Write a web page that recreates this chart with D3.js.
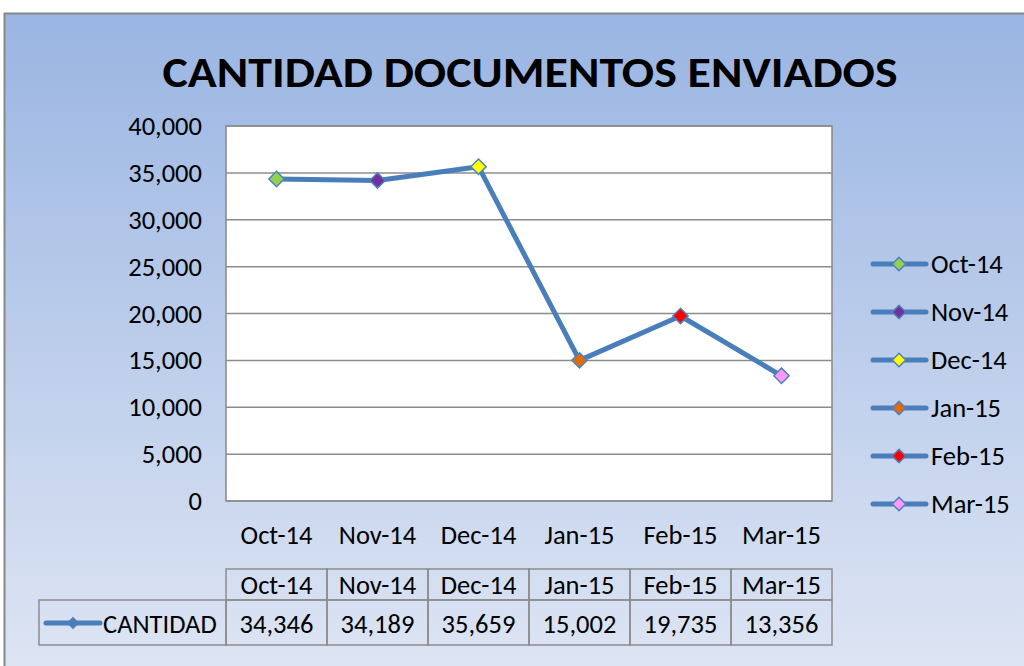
<!DOCTYPE html>
<html>
<head>
<meta charset="utf-8">
<script src="https://cdn.jsdelivr.net/npm/d3@7"></script>
<style>
  body { margin: 0; background: #fff; }
  svg { display: block; font-family: Carlito, Calibri, "Open Sans", sans-serif; }
</style>
</head>
<body>
<svg id="chart" width="1024" height="666"></svg>
<script>
// datos
var months = ["Oct-14", "Nov-14", "Dec-14", "Jan-15", "Feb-15", "Mar-15"];
var cantidad = [34346, 34189, 35659, 15002, 19735, 13356];
var markerColors = ["#92d050", "#7030a0", "#ffff00", "#e36c09", "#ff0000", "#ff99ff"];
var yTicks = [0, 5000, 10000, 15000, 20000, 25000, 30000, 35000, 40000];
var seriesName = "CANTIDAD";
var title = "CANTIDAD DOCUMENTOS ENVIADOS";

var svg = d3.select("#chart");
var lineColor = "#4a7ebb";
var fs = 26.5;
var plot = {left: 226, right: 832, top: 126, bottom: 501};

// fondo degradado
var defs = svg.append("defs");
var grad = defs.append("linearGradient").attr("id", "bg")
  .attr("x1", 0).attr("y1", 0).attr("x2", 0).attr("y2", 1);
grad.append("stop").attr("offset", "0%").attr("stop-color", "#9ab5e2");
grad.append("stop").attr("offset", "100%").attr("stop-color", "#dfe6f4");

svg.append("rect")
  .attr("x", 4.5).attr("y", 13.5).attr("width", 1030).attr("height", 670)
  .attr("fill", "url(#bg)").attr("stroke", "#878787").attr("stroke-width", 2);

svg.append("text")
  .attr("x", 530).attr("y", 87)
  .attr("text-anchor", "middle")
  .attr("font-size", 42).attr("font-weight", "bold")
  .attr("textLength", 735).attr("lengthAdjust", "spacingAndGlyphs")
  .text(title);

var x = d3.scaleBand().domain(months).range([plot.left, plot.right]);
var y = d3.scaleLinear().domain([0, 40000]).range([plot.bottom, plot.top]);

svg.append("rect")
  .attr("x", plot.left).attr("y", plot.top)
  .attr("width", plot.right - plot.left).attr("height", plot.bottom - plot.top)
  .attr("fill", "#fff").attr("stroke", "#888").attr("stroke-width", 1.5);

svg.append("g").selectAll("line")
  .data(yTicks)
  .enter().append("line")
  .attr("x1", plot.left).attr("x2", plot.right)
  .attr("y1", d => y(d)).attr("y2", d => y(d))
  .attr("stroke", "#8c8c8c").attr("stroke-width", 1.5);

var fmt = d3.format(",");
svg.append("g").selectAll("text")
  .data(yTicks)
  .enter().append("text")
  .attr("x", 202).attr("y", d => y(d) + 9)
  .attr("text-anchor", "end").attr("font-size", fs)
  .text(d => fmt(d));

svg.append("g").selectAll("text")
  .data(months)
  .enter().append("text")
  .attr("x", d => x(d) + x.bandwidth() / 2).attr("y", 544)
  .attr("text-anchor", "middle").attr("font-size", fs)
  .text(d => d);

var line = d3.line()
  .x((d, i) => x(months[i]) + x.bandwidth() / 2)
  .y(d => y(d));

svg.append("path")
  .datum(cantidad)
  .attr("d", line)
  .attr("fill", "none").attr("stroke", lineColor)
  .attr("stroke-width", 5).attr("stroke-linejoin", "round");

var diamond = d3.symbol().type(d3.symbolDiamond2).size(150);

svg.append("g").selectAll("path")
  .data(cantidad)
  .enter().append("path")
  .attr("d", diamond)
  .attr("transform", (d, i) => "translate(" + (x(months[i]) + x.bandwidth() / 2) + "," + y(d) + ")")
  .attr("fill", (d, i) => markerColors[i])
  .attr("stroke", "#4f81bd").attr("stroke-width", 1.5);

// leyenda
var legend = svg.append("g").selectAll("g")
  .data(months)
  .enter().append("g")
  .attr("transform", (d, i) => "translate(0," + (264 + i * 48) + ")");
legend.append("line")
  .attr("x1", 873).attr("x2", 926).attr("y1", 0).attr("y2", 0)
  .attr("stroke", lineColor).attr("stroke-width", 5).attr("stroke-linecap", "round");
legend.append("path")
  .attr("d", d3.symbol().type(d3.symbolDiamond2).size(115))
  .attr("transform", "translate(899,0)")
  .attr("fill", (d, i) => markerColors[i])
  .attr("stroke", "#4f81bd").attr("stroke-width", 1.5);
legend.append("text")
  .attr("x", 931).attr("y", 9).attr("font-size", fs)
  .text(d => d);

// tabla de datos
var table = svg.append("g");
var hTop = 569, hBot = 600, dBot = 645;
table.selectAll("rect.h")
  .data(months)
  .enter().append("rect")
  .attr("x", d => x(d)).attr("y", hTop)
  .attr("width", x.bandwidth()).attr("height", hBot - hTop)
  .attr("fill", "none").attr("stroke", "#8c8c8c").attr("stroke-width", 1.5);
table.selectAll("text.h")
  .data(months)
  .enter().append("text")
  .attr("x", d => x(d) + x.bandwidth() / 2).attr("y", 594)
  .attr("text-anchor", "middle").attr("font-size", fs)
  .text(d => d);
table.selectAll("rect.d")
  .data(cantidad)
  .enter().append("rect")
  .attr("x", (d, i) => x(months[i])).attr("y", hBot)
  .attr("width", x.bandwidth()).attr("height", dBot - hBot)
  .attr("fill", "none").attr("stroke", "#8c8c8c").attr("stroke-width", 1.5);
table.selectAll("text.d")
  .data(cantidad)
  .enter().append("text")
  .attr("x", (d, i) => x(months[i]) + x.bandwidth() / 2).attr("y", 633)
  .attr("text-anchor", "middle").attr("font-size", fs)
  .text(d => fmt(d));
table.append("rect")
  .attr("x", 39).attr("y", hBot).attr("width", plot.left - 39).attr("height", dBot - hBot)
  .attr("fill", "none").attr("stroke", "#8c8c8c").attr("stroke-width", 1.5);
table.append("line")
  .attr("x1", 46).attr("x2", 100).attr("y1", 623).attr("y2", 623)
  .attr("stroke", lineColor).attr("stroke-width", 5).attr("stroke-linecap", "round");
table.append("path")
  .attr("d", d3.symbol().type(d3.symbolDiamond2).size(100))
  .attr("transform", "translate(73,623)")
  .attr("fill", lineColor);
table.append("text")
  .attr("x", 103).attr("y", 633).attr("font-size", fs)
  .text(seriesName);
</script>
</body>
</html>
